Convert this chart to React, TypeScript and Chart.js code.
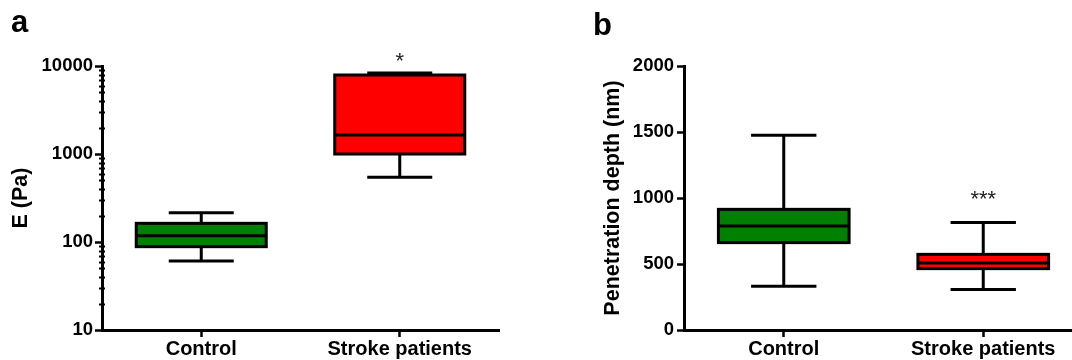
import React, { useEffect, useRef } from 'react';
import { Chart, registerables } from 'chart.js';

Chart.register(...registerables);

// ---------- data ----------
const groups = ['Control', 'Stroke patients'];
const boxColors = ['#008000', '#FF0000'];

// panel a: E (Pa), log scale
const eMin = [61, 545];
const eQ1 = [88.5, 1000];
const eMedian = [118, 1640];
const eQ3 = [163, 7900];
const eMax = [215, 8300];
const eSig = ['', '*'];
const eSigAt = [0, 9500];
const eTicks = [10, 100, 1000, 10000];

// panel b: Penetration depth (nm)
const dMin = [331, 306];
const dQ1 = [662, 465];
const dMedian = [788, 508];
const dQ3 = [914, 573];
const dMax = [1475, 814];
const dSig = ['', '***'];
const dSigAt = [0, 936];
const dTicks = [0, 500, 1000, 1500, 2000];

const FONT = '"Liberation Sans", Arial, Helvetica, sans-serif';

type BoxCfg = {
  min: number[]; q1: number[]; med: number[]; q3: number[]; max: number[];
  sig: string[]; sigAt: number[];
  letter: string; letterX: number; letterY: number;
  minorLog: boolean;
};

function makeBoxPlugin(cfg: BoxCfg) {
  return {
    id: 'boxWhisker',
    afterDraw(chart: any) {
      const { ctx } = chart;
      const y = chart.scales.y;
      const meta = chart.getDatasetMeta(0);
      const line = (x1: number, y1: number, x2: number, y2: number) => {
        ctx.beginPath();
        ctx.moveTo(x1, y1);
        ctx.lineTo(x2, y2);
        ctx.stroke();
      };
      ctx.save();
      ctx.strokeStyle = '#000';
      ctx.lineWidth = 3;
      ctx.lineCap = 'butt';
      meta.data.forEach((bar: any, i: number) => {
        const x = bar.x;
        const w = bar.width;
        const pMin = y.getPixelForValue(cfg.min[i]);
        const pQ1 = y.getPixelForValue(cfg.q1[i]);
        const pMed = y.getPixelForValue(cfg.med[i]);
        const pQ3 = y.getPixelForValue(cfg.q3[i]);
        const pMax = y.getPixelForValue(cfg.max[i]);
        line(x, pMax, x, pQ3);
        line(x, pQ1, x, pMin);
        line(x - w / 4, pMax, x + w / 4, pMax);
        line(x - w / 4, pMin, x + w / 4, pMin);
        ctx.strokeRect(x - w / 2, pQ3, w, pQ1 - pQ3);
        line(x - w / 2, pMed, x + w / 2, pMed);
        if (cfg.sig[i]) {
          ctx.fillStyle = '#222';
          ctx.font = `22px ${FONT}`;
          ctx.textAlign = 'center';
          ctx.textBaseline = 'alphabetic';
          ctx.fillText(cfg.sig[i], x, y.getPixelForValue(cfg.sigAt[i]));
        }
      });
      if (cfg.minorLog) {
        ctx.lineWidth = 2;
        const ax = y.right;
        for (let dec = y.min; dec < y.max; dec *= 10) {
          for (let m = 2; m <= 9; m++) {
            const py = Math.round(y.getPixelForValue(dec * m)) + 0.5;
            line(ax - 3, py, ax + 3, py);
          }
        }
      }
      ctx.fillStyle = '#000';
      ctx.font = `bold 31px ${FONT}`;
      ctx.textAlign = 'left';
      ctx.textBaseline = 'alphabetic';
      ctx.fillText(cfg.letter, cfg.letterX, cfg.letterY);
      ctx.restore();
    },
  };
}

function baseOptions(opts: {
  yScale: any; yWidth: number; title: string; padLeft: number; padRight: number; tickPad: number;
}) {
  return {
    animation: false,
    responsive: false,
    devicePixelRatio: 1,
    layout: { padding: { left: opts.padLeft, right: opts.padRight, top: 66, bottom: 0 } },
    plugins: { legend: { display: false }, tooltip: { enabled: false } },
    scales: {
      x: {
        type: 'category',
        offset: true,
        grid: { offset: false, drawOnChartArea: false, drawTicks: true, tickLength: 7, tickWidth: 2.5, tickColor: '#000' },
        border: { display: true, color: '#000', width: 3 },
        ticks: { color: '#000', padding: 0, font: { family: FONT, size: 20, weight: 'bold' }, maxRotation: 0 },
        afterFit: (s: any) => { s.height = 30; },
      },
      y: {
        ...opts.yScale,
        grid: { drawOnChartArea: false, drawTicks: true, tickLength: 7, tickWidth: 2.5, tickColor: '#000' },
        border: { display: true, color: '#000', width: 3 },
        title: {
          display: true,
          text: opts.title,
          color: '#000',
          font: { family: FONT, size: 21.5, weight: 'bold' },
          padding: { top: 8, bottom: 0 },
        },
        afterFit: (s: any) => { s.width = opts.yWidth; },
      },
    },
  };
}

function useBoxChart(
  ref: React.RefObject<HTMLCanvasElement | null>,
  q1: number[], q3: number[], cfg: BoxCfg, options: any
) {
  useEffect(() => {
    if (!ref.current) return;
    const chart = new Chart(ref.current, {
      type: 'bar',
      data: {
        labels: groups,
        datasets: [
          {
            data: groups.map((_, i) => [q1[i], q3[i]]),
            backgroundColor: boxColors,
            borderWidth: 0,
            barPercentage: 0.655,
            categoryPercentage: 1,
          },
        ],
      },
      options,
      plugins: [makeBoxPlugin(cfg)],
    } as any);
    return () => chart.destroy();
  }, []);
}

export default function App() {
  const refA = useRef<HTMLCanvasElement>(null);
  const refB = useRef<HTMLCanvasElement>(null);

  useBoxChart(
    refA, eQ1, eQ3,
    { min: eMin, q1: eQ1, med: eMedian, q3: eQ3, max: eMax, sig: eSig, sigAt: eSigAt, letter: 'a', letterX: 11, letterY: 32, minorLog: true },
    baseOptions({
      yScale: {
        type: 'logarithmic',
        min: eTicks[0],
        max: eTicks[eTicks.length - 1],
        afterBuildTicks: (s: any) => { s.ticks = eTicks.map((v) => ({ value: v })); },
        ticks: { color: '#000', padding: 2, font: { family: FONT, size: 18.5, weight: 'bold' }, callback: (v: any) => String(v) },
      },
      yWidth: 102,
      title: 'E (Pa)',
      padLeft: 0,
      padRight: 37,
      tickPad: 2,
    })
  );

  useBoxChart(
    refB, dQ1, dQ3,
    { min: dMin, q1: dQ1, med: dMedian, q3: dQ3, max: dMax, sig: dSig, sigAt: dSigAt, letter: 'b', letterX: 57, letterY: 35, minorLog: false },
    baseOptions({
      yScale: {
        type: 'linear',
        min: dTicks[0],
        max: dTicks[dTicks.length - 1],
        afterBuildTicks: (s: any) => { s.ticks = dTicks.map((v) => ({ value: v })); },
        ticks: { color: '#000', padding: 3, font: { family: FONT, size: 18.5, weight: 'bold' }, callback: (v: any) => String(v) },
      },
      yWidth: 92,
      title: 'Penetration depth (nm)',
      padLeft: 56,
      padRight: 0,
      tickPad: 3,
    })
  );

  return (
    <div style={{ position: 'fixed', left: 0, top: 0, width: 1072, height: 360, overflow: 'hidden', background: '#fff' }}>
      <div style={{ position: 'absolute', left: 0, top: 0, width: 536, height: 360 }}>
        <canvas ref={refA} width={536} height={360} style={{ display: 'block' }} />
      </div>
      <div style={{ position: 'absolute', left: 536, top: 0, width: 547, height: 360 }}>
        <canvas ref={refB} width={547} height={360} style={{ display: 'block' }} />
      </div>
    </div>
  );
}
